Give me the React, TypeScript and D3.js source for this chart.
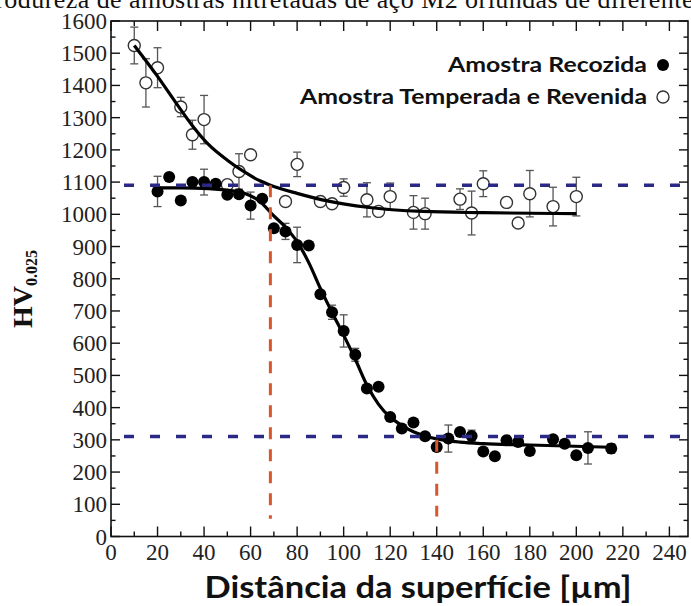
import React from "react";
import * as d3 from "d3";

// Amostra Recozida (filled)
const recX = [20, 25, 30, 35, 40, 45, 50, 55, 60, 65, 70, 75, 80, 85, 90, 95, 100, 105, 110, 115, 120, 125, 130, 135, 140, 145, 150, 155, 160, 165, 170, 175, 180, 190, 195, 200, 205, 215];
const recHV = [1071, 1116, 1043, 1100, 1100, 1095, 1061, 1062, 1027, 1048, 957, 947, 905, 903, 752, 696, 638, 564, 459, 465, 371, 335, 354, 311, 278, 304, 324, 312, 264, 249, 299, 293, 265, 302, 288, 252, 275, 273];
const recErr = [47, 0, 0, 0, 40, 0, 0, 0, 42, 0, 0, 25, 55, 0, 0, 22, 50, 20, 0, 0, 0, 0, 0, 0, 0, 42, 0, 18, 0, 0, 0, 0, 0, 0, 0, 0, 50, 15];

// Amostra Temperada e Revenida (open)
const tempX = [10, 15, 20, 30, 35, 40, 50, 55, 60, 75, 80, 90, 95, 100, 110, 115, 120, 130, 135, 150, 155, 160, 170, 175, 180, 190, 200];
const tempHV = [1524, 1408, 1455, 1333, 1247, 1294, 1092, 1133, 1185, 1040, 1155, 1040, 1033, 1083, 1045, 1009, 1055, 1006, 1002, 1047, 1004, 1095, 1037, 973, 1064, 1024, 1055];
const tempErr = [57, 75, 62, 30, 45, 75, 10, 55, 12, 10, 38, 8, 8, 27, 53, 12, 42, 52, 48, 32, 68, 40, 15, 8, 72, 60, 60];

// fitted curves
const fitTempX = [10, 20, 28, 35, 42, 50, 57, 64, 68, 80, 94, 110, 134, 160, 200];
const fitTempHV = [1524, 1428, 1345, 1275, 1216, 1168, 1133, 1104, 1092, 1065, 1040, 1022, 1009, 1005, 1002];
const fitRecX = [20, 30, 42, 50, 57, 64, 70, 75, 80, 85, 90, 95, 100, 105, 110, 115, 120, 125, 130, 135, 140, 150, 160, 180, 215];
const fitRecHV = [1082, 1082, 1080, 1075, 1066, 1040, 995, 960, 915, 850, 770, 695, 625, 550, 470, 410, 370, 345, 325, 312, 303, 293, 288, 284, 277];

const refHV = [1090, 310];
const refLines = [
  { x: 68.5, from: 55, to: 1090 },
  { x: 140, from: 62, to: 300 },
];

const xTicks = d3.range(0, 241, 20);
const xMinor = d3.range(10, 250, 20);
const yTicks = d3.range(0, 1601, 100);
const yMinor = d3.range(50, 1600, 100);

const W = 691;
const H = 606;

export default function App() {
  const x = d3.scaleLinear().domain([0, 248]).range([111, 688]);
  const y = d3.scaleLinear().domain([0, 1600]).range([536.5, 21]);
  const [x0, x1] = x.range();
  const [y0, y1] = y.range();

  const line = d3
    .line<[number, number]>()
    .x((d) => x(d[0]))
    .y((d) => y(d[1]))
    .curve(d3.curveMonotoneX);

  const tempPath = line(fitTempX.map((v, i) => [v, fitTempHV[i]]));
  const recPath = line(fitRecX.map((v, i) => [v, fitRecHV[i]]));

  const errBar = (xv: number, yv: number, e: number, key: string) => {
    if (!e) return null;
    const cx = x(xv);
    const t = y(yv + e);
    const b = y(yv - e);
    return (
      <g key={key} stroke="#555" strokeWidth={1.3}>
        <line x1={cx} x2={cx} y1={t} y2={b} />
        <line x1={cx - 4} x2={cx + 4} y1={t} y2={t} />
        <line x1={cx - 4} x2={cx + 4} y1={b} y2={b} />
      </g>
    );
  };

  return (
    <svg
      width={W}
      height={H}
      style={{ position: "absolute", left: 0, top: 0, background: "#fff" }}
    >
      <text
        x={-48}
        y={8}
        fontFamily="Liberation Serif, serif"
        fontSize={26}
        textLength={752}
        lengthAdjust="spacing"
        fill="#111"
      >
        Microdureza de amostras nitretadas de aço M2 oriundas de diferentes
      </text>

      {/* error bars */}
      {tempX.map((v, i) => errBar(v, tempHV[i], tempErr[i], "te" + i))}
      {recX.map((v, i) => errBar(v, recHV[i], recErr[i], "re" + i))}

      {/* open markers */}
      {tempX.map((v, i) => (
        <circle
          key={"t" + i}
          cx={x(v)}
          cy={y(tempHV[i])}
          r={6}
          fill="#fff"
          stroke="#333"
          strokeWidth={1.4}
        />
      ))}

      <path d={tempPath || ""} fill="none" stroke="#000" strokeWidth={3.2} />
      <path d={recPath || ""} fill="none" stroke="#000" strokeWidth={3.2} />

      {recX.map((v, i) => (
        <circle key={"r" + i} cx={x(v)} cy={y(recHV[i])} r={6} fill="#000" />
      ))}

      {/* reference lines */}
      {refHV.map((v) => (
        <line
          key={"h" + v}
          x1={x0}
          x2={x1}
          y1={y(v)}
          y2={y(v)}
          stroke="#2a2a86"
          strokeWidth={3.5}
          strokeDasharray="10 16"
          strokeDashoffset={-13}
        />
      ))}
      {refLines.map((d) => (
        <line
          key={"v" + d.x}
          x1={x(d.x)}
          x2={x(d.x)}
          y1={y(d.to)}
          y2={y(d.from)}
          stroke="#d9552c"
          strokeWidth={3}
          strokeDasharray="12 10"
        />
      ))}

      {/* frame and ticks */}
      <rect
        x={x0}
        y={y1}
        width={x1 - x0}
        height={y0 - y1}
        fill="none"
        stroke="#111"
        strokeWidth={1.6}
      />
      <g stroke="#111" strokeWidth={1.4}>
        {xTicks.map((t) => (
          <g key={"xt" + t}>
            <line x1={x(t)} x2={x(t)} y1={y0} y2={y0 - 10} />
            <line x1={x(t)} x2={x(t)} y1={y1} y2={y1 + 10} />
          </g>
        ))}
        {xMinor.map((t) => (
          <g key={"xm" + t}>
            <line x1={x(t)} x2={x(t)} y1={y0} y2={y0 - 5} />
            <line x1={x(t)} x2={x(t)} y1={y1} y2={y1 + 5} />
          </g>
        ))}
        {yTicks.map((t) => (
          <g key={"yt" + t}>
            <line x1={x0} x2={x0 + 9} y1={y(t)} y2={y(t)} />
            <line x1={x1} x2={x1 - 9} y1={y(t)} y2={y(t)} />
          </g>
        ))}
        {yMinor.map((t) => (
          <g key={"ym" + t}>
            <line x1={x0} x2={x0 + 4.5} y1={y(t)} y2={y(t)} />
            <line x1={x1} x2={x1 - 4.5} y1={y(t)} y2={y(t)} />
          </g>
        ))}
      </g>

      <g fontFamily="Liberation Serif, serif" fontSize={23} fill="#222">
        {xTicks.map((t) => (
          <text key={"xl" + t} x={x(t)} y={y0 + 23} textAnchor="middle">
            {t}
          </text>
        ))}
        {yTicks.map((t) => (
          <text
            key={"yl" + t}
            x={x0 - 4}
            y={y(t) + 8}
            textAnchor="end"
          >
            {t}
          </text>
        ))}
      </g>

      <text
        transform="translate(32,328) rotate(-90)"
        fontFamily="Liberation Serif, serif"
        fontWeight="bold"
        fontSize={28}
        fill="#111"
      >
        HV
        <tspan fontSize={16} dy={5}>
          0.025
        </tspan>
      </text>

      <text
        x={418}
        y={598}
        textAnchor="middle"
        fontFamily="Lato, sans-serif"
        fontWeight="bold"
        fontSize={31}
        textLength={427}
        lengthAdjust="spacingAndGlyphs"
        fill="#111"
      >
        Distância da superfície [µm]
      </text>

      {/* legend */}
      <g fontFamily="Lato, sans-serif" fontWeight="bold" fontSize={21} fill="#111">
        <text x={647} y={72} textAnchor="end" textLength={199} lengthAdjust="spacingAndGlyphs">
          Amostra Recozida
        </text>
        <text x={647} y={104} textAnchor="end" textLength={347} lengthAdjust="spacingAndGlyphs">
          Amostra Temperada e Revenida
        </text>
      </g>
      <circle cx={663} cy={65} r={6} fill="#000" />
      <circle cx={663} cy={97} r={6} fill="#fff" stroke="#333" strokeWidth={1.4} />
    </svg>
  );
}
